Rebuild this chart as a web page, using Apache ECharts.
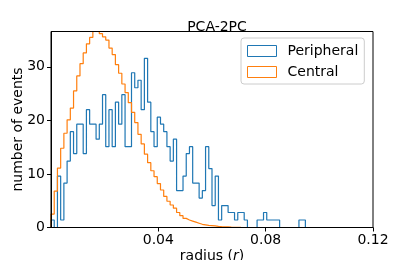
<!DOCTYPE html>
<html><head><meta charset="utf-8">
<script src="https://cdn.jsdelivr.net/npm/echarts@6/dist/echarts.min.js"></script>
<style>html,body{margin:0;padding:0;background:#fff}#c{width:415px;height:260px}</style>
</head><body><div id="c"></div>
<script>
const titleText = 'PCA-2PC';
const seriesNames = ['Peripheral', 'Central'];
const binStart = 0;
const binWidth = 0.0012;
const peripheral = [1.4, 0, 9.6, 1.4, 8.3, 12.4, 17.9, 13.8, 19.3, 19.3,
  13.8, 22.0, 19.3, 19.3, 16.5, 19.3, 24.8, 15.1, 22.0, 15.1,
  23.4, 19.3, 24.8, 15.1, 15.1, 28.9, 26.1, 27.5, 22.0, 31.6,
  23.4, 17.9, 15.1, 20.6, 19.3, 17.9, 15.1, 12.4, 16.5, 6.9,
  6.9, 9.6, 13.8, 15.1, 8.3, 8.3, 5.5, 6.9, 15.1, 11.0,
  4.1, 9.6, 1.4, 4.1, 4.1, 2.8, 2.8, 1.4, 2.8, 2.8,
  1.4, 0, 0, 0, 1.4, 1.4, 2.8, 1.4, 1.4, 1.4,
  1.4, 0, 0, 0, 0, 0, 0, 1.4, 1.4];
const central = [2.5, 6.8, 11.1, 14.8, 17.6, 20.1, 22.3, 25.5, 28.3, 30.6,
  32.6, 34.3, 35.5, 36.6, 36.6, 36.2, 35.6, 35.0, 33.5, 32.3,
  30.4, 28.8, 26.8, 25.2, 23.3, 21.5, 19.6, 17.4, 15.6, 13.7,
  12.1, 10.6, 9.5, 8.2, 7.0, 5.8, 4.9, 4.2, 3.6, 2.8,
  2.2, 1.7, 1.4, 1.2, 1.0, 0.8, 0.6, 0.5, 0.4, 0.35,
  0.3, 0.2, 0.15, 0.12, 0.1, 0.07, 0.05, 0.03, 0.02];
const xTicks = [0.04, 0.08, 0.12];
const yTicks = [0, 10, 20, 30];
const xRange = [0, 0.12];
const yRange = [0, 36.6];

function stepData(vals) {
  const pts = [[binStart, 0]];
  vals.forEach((v, i) => pts.push([binStart + i * binWidth, v]));
  const end = binStart + vals.length * binWidth;
  pts.push([end, vals[vals.length - 1]]);
  pts.push([end, 0]);
  return pts;
}
const FONT = 'DejaVu Sans';
const colors = ['#1f77b4', '#ff7f0e'];
const chart = echarts.init(document.getElementById('c'), null, {renderer: 'canvas'});
chart.setOption({
  animation: false,
  backgroundColor: '#fff',
  title: {text: titleText, left: 212, top: 15, textAlign: 'center',
    textStyle: {fontFamily: FONT, fontSize: 14, fontWeight: 'normal', color: '#000'}},
  legend: {
    orient: 'vertical', left: 241, top: 38, padding: [5, 6, 4, 6],
    itemWidth: 29, itemHeight: 11, itemGap: 5,
    backgroundColor: 'rgba(255,255,255,0.8)', borderColor: '#cccccc', borderWidth: 1, borderRadius: 3,
    textStyle: {fontFamily: FONT, fontSize: 14, color: '#000', lineHeight: 16, padding: [0, 0, 0, 6]},
    data: seriesNames.map((n, i) => ({name: n, icon: 'rect',
      itemStyle: {color: 'rgba(0,0,0,0)', borderColor: colors[i], borderWidth: 1}}))
  },
  grid: {left: 51, top: 31.5, width: 322, height: 196, show: true, borderColor: '#000', borderWidth: 1, z: 3,
    outerBoundsMode: 'none', containLabel: false},
  xAxis: {
    type: 'value', min: xRange[0], max: xRange[1], interval: 0.04, z: 3,
    name: 'radius ({i|r})', nameLocation: 'middle', nameGap: 22, nameMoveOverlap: false,
    nameTextStyle: {fontFamily: FONT, fontSize: 14, color: '#000', verticalAlign: 'top',
      rich: {i: {fontFamily: FONT, fontSize: 14, fontStyle: 'italic', color: '#000'}}},
    splitLine: {show: false},
    axisLine: {lineStyle: {color: '#000', width: 1}},
    axisTick: {inside: false, length: 4, lineStyle: {color: '#000'}},
    axisLabel: {fontFamily: FONT, fontSize: 14, color: '#000', margin: 6, showMinLabel: false,
      formatter: v => xTicks.some(t => Math.abs(t - v) < 1e-9) ? v.toFixed(2) : ''}
  },
  yAxis: {
    type: 'value', min: yRange[0], max: yRange[1], interval: 10, z: 3,
    name: 'number of events', nameLocation: 'middle', nameGap: 26, nameMoveOverlap: false,
    nameTextStyle: {fontFamily: FONT, fontSize: 14, color: '#000'},
    splitLine: {show: false},
    axisLine: {show: true, lineStyle: {color: '#000', width: 1}},
    axisTick: {show: true, inside: false, length: 4, lineStyle: {color: '#000'}},
    axisLabel: {fontFamily: FONT, fontSize: 14, color: '#000', margin: 6, showMaxLabel: false,
      formatter: v => yTicks.indexOf(v) >= 0 ? String(v) : ''}
  },
  series: [
    {name: seriesNames[0], type: 'line', step: 'end', showSymbol: false, symbol: 'none',
      data: stepData(peripheral), lineStyle: {color: colors[0], width: 1.2}, itemStyle: {color: colors[0]}, z: 2},
    {name: seriesNames[1], type: 'line', step: 'end', showSymbol: false, symbol: 'none',
      data: stepData(central), lineStyle: {color: colors[1], width: 1.2}, itemStyle: {color: colors[1]}, z: 2}
  ]
});
</script></body></html>
